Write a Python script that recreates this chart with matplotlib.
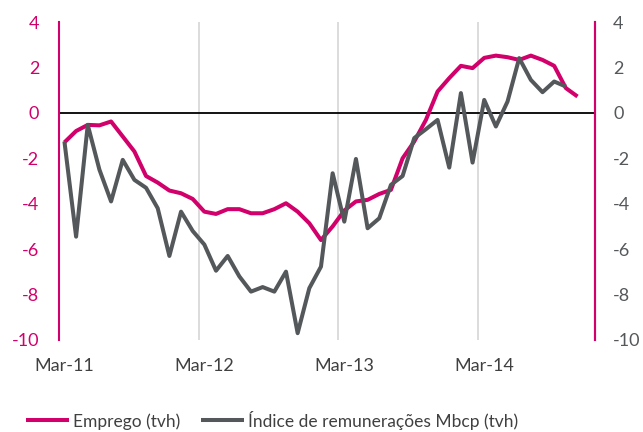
import matplotlib
matplotlib.use("Agg")
import matplotlib.pyplot as plt
import pandas as pd
import numpy as np

# Monthly categories Mar-11 .. Dec-14
months = pd.date_range("2011-03-01", "2014-12-01", freq="MS")
month_labels = [d.strftime("%b-%y") for d in months]

emprego = [-1.3, -0.8, -0.53, -0.55, -0.38, -1.04, -1.7, -2.78, -3.07, -3.42,
           -3.54, -3.79, -4.35, -4.45, -4.24, -4.24, -4.42, -4.42, -4.24, -3.98,
           -4.35, -4.86, -5.6, -5.0, -4.3, -3.9, -3.83, -3.57, -3.39, -2.0,
           -1.26, -0.31, 0.94, 1.53, 2.07, 1.97, 2.42, 2.52, 2.45, 2.33,
           2.52, 2.33, 2.07, 1.09, 0.72]

remuneracoes = [-1.26, -5.45, -0.53, -2.5, -3.9, -2.07, -2.95, -3.3, -4.2, -6.3,
                -4.35, -5.2, -5.8, -6.95, -6.3, -7.2, -7.87, -7.67, -7.87, -6.99,
                -9.7, -7.72, -6.77, -2.66, -4.79, -2.03, -5.08, -4.64, -3.17, -2.78,
                -1.11, -0.72, -0.31, -2.41, 0.87, -2.19, 0.57, -0.6, 0.5, 2.41,
                1.45, 0.91, 1.38, 1.16]

tick_labels = ["Mar-11", "Mar-12", "Mar-13", "Mar-14"]
y_ticks = [4, 2, 0, -2, -4, -6, -8, -10]

PINK = "#D1006B"
GRAY = "#54585B"
TXT = "#404040"

plt.rcParams['font.family'] = ['Lato', 'DejaVu Sans']

fig = plt.figure(figsize=(6.43, 4.32), dpi=100)
ax = fig.add_axes([58.6 / 643, 1 - 340 / 432, (595 - 58.6) / 643, (340 - 22) / 432])

n = len(months)
x_emp = np.arange(len(emprego)) + 0.5
x_rem = np.arange(len(remuneracoes)) + 0.5

ax.set_xlim(0, n)
ax.set_ylim(-10, 4)

# vertical gridlines at category boundaries
grid_pos = [month_labels.index(t) for t in tick_labels[1:]]
for g in grid_pos:
    ax.axvline(g, color="#D9D9D9", lw=1.3, zorder=1)
ax.axhline(0, color="black", lw=1.3, zorder=2)

ax.plot(x_emp, emprego, color=PINK, lw=2.9, solid_joinstyle="round",
        solid_capstyle="butt", zorder=3, label="Emprego (tvh)")
ax.plot(x_rem, remuneracoes, color=GRAY, lw=2.9, solid_joinstyle="round",
        solid_capstyle="butt", zorder=4, label="Índice de remunerações Mbcp (tvh)")

ax.set_xticks([month_labels.index(t) + 0.5 for t in tick_labels])
ax.set_xticklabels(tick_labels, color=TXT, fontsize=13)
ax.tick_params(axis="x", length=0, pad=13)

ax.set_yticks(y_ticks)
ax.set_yticklabels([str(v) for v in y_ticks], color=PINK, fontsize=13)
ax.tick_params(axis="y", length=0, pad=14)

for s in ["top", "bottom"]:
    ax.spines[s].set_visible(False)
for s in ["left", "right"]:
    ax.spines[s].set_color(PINK)
    ax.spines[s].set_linewidth(1.5)

ax2 = ax.twinx()
ax2.set_ylim(-10, 4)
ax2.set_yticks(y_ticks)
ax2.set_yticklabels([str(v) for v in y_ticks], color=GRAY, fontsize=13)
ax2.tick_params(axis="y", length=0, pad=13)
for s in ["top", "bottom", "left"]:
    ax2.spines[s].set_visible(False)
ax2.spines["right"].set_color(PINK)
ax2.spines["right"].set_linewidth(1.5)

handles, labels = ax.get_legend_handles_labels()
leg = fig.legend(handles, labels, loc="center", bbox_to_anchor=(272 / 643, 1 - 420 / 432),
                 ncol=2, frameon=False, fontsize=12.5, handlelength=2.5,
                 handletextpad=0.2, columnspacing=1.2)
for t in leg.get_texts():
    t.set_color(TXT)

fig.savefig("out.png", dpi=100)
